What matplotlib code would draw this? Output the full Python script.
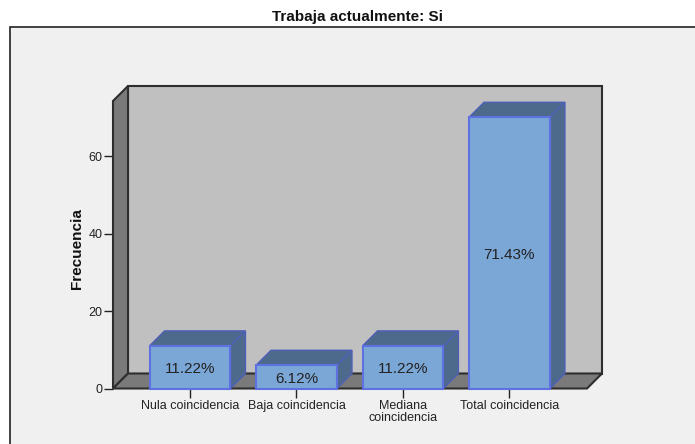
import matplotlib.pyplot as plt
from matplotlib.patches import Polygon, Rectangle

plt.rcParams['font.family'] = ['Liberation Sans', 'DejaVu Sans']

categories = ['Nula coincidencia', 'Baja coincidencia', 'Mediana\ncoincidencia', 'Total coincidencia']
freq = [11, 6, 11, 70]
pct_labels = ['11.22%', '6.12%', '11.22%', '71.43%']
yticks = [0, 20, 40, 60]

W, H = 695, 444
fig = plt.figure(figsize=(W / 100, H / 100), dpi=100, facecolor='white')

# grey panel behind the chart, runs off the right and bottom of the image
fig.add_artist(Rectangle((9.5 / W, -0.01), 1.02, 1.01 - 27.5 / H, transform=fig.transFigure,
                         facecolor='#f0f0f0', edgecolor='#222222', linewidth=1.2, zorder=-1))
fig.text(357.5 / W, 1 - 17 / H, 'Trabaja actualmente: Si', ha='center', va='center',
         fontsize=11, fontweight='bold', color='#111111')

# front plane of the 3d box
ax = fig.add_axes([113 / W, 1 - 388.5 / H, 474 / W, 287.5 / H])
ax.set_xlim(-0.723, 3.728)
ax.set_ylim(0, 74.2)
ax.patch.set_visible(False)
for s in ax.spines.values():
    s.set_visible(False)

x0, x1 = ax.get_xlim()
y0, y1 = ax.get_ylim()
# 15 px depth, converted to data units
dx = 15 * (x1 - x0) / 474
dy = 15 * (y1 - y0) / 287.5

edge = '#2e2e2e'
ax.add_patch(Polygon([(x0 + dx, y0 + dy), (x1 + dx, y0 + dy), (x1 + dx, y1 + dy), (x0 + dx, y1 + dy)],
                     facecolor='#c0c0c0', edgecolor=edge, linewidth=1.5, clip_on=False, zorder=1))
ax.add_patch(Polygon([(x0, y0), (x0 + dx, y0 + dy), (x0 + dx, y1 + dy), (x0, y1)],
                     facecolor='#7a7a7a', edgecolor=edge, linewidth=1.5, clip_on=False, zorder=2))
ax.add_patch(Polygon([(x0, y0), (x1, y0), (x1 + dx, y0 + dy), (x0 + dx, y0 + dy)],
                     facecolor='#7a7a7a', edgecolor=edge, linewidth=1.5, clip_on=False, zorder=2))

w = 0.76
for i, v in enumerate(freq):
    l, r = i - w / 2, i + w / 2
    ax.add_patch(Polygon([(l, v), (r, v), (r + dx, v + dy), (l + dx, v + dy)],
                         facecolor='#4d6a8c', edgecolor='#4f5fb8', linewidth=1.0, clip_on=False, zorder=3))
    ax.add_patch(Polygon([(r, 0), (r + dx, dy), (r + dx, v + dy), (r, v)],
                         facecolor='#4d6a8c', edgecolor='#4f5fb8', linewidth=1.0, clip_on=False, zorder=3))
    ax.bar(i, v, width=w, color='#7ba7d7', edgecolor='#5f70e0', linewidth=1.5, zorder=4, clip_on=False)
    ax.annotate(pct_labels[i], (i, v / 2), xytext=(0, -1.2), textcoords='offset points',
                ha='center', va='center', fontsize=11, color='#222222', zorder=5)

ax.set_xticks(range(len(categories)))
ax.set_xticklabels(categories, fontsize=9, color='#222222', linespacing=1.0)
ax.set_yticks(yticks)
ax.tick_params(axis='x', length=6.5, width=1, color='#222222', pad=1.5)
ax.tick_params(axis='y', length=6.5, width=1, color='#222222', pad=1, labelsize=9, labelcolor='#222222')
ax.set_ylabel('Frecuencia', fontsize=11, fontweight='bold', color='#111111')
ax.yaxis.set_label_coords((84 - 113) / 474, (388.5 - 249) / 287.5)

fig.savefig('out.png', dpi=100, facecolor='white')
